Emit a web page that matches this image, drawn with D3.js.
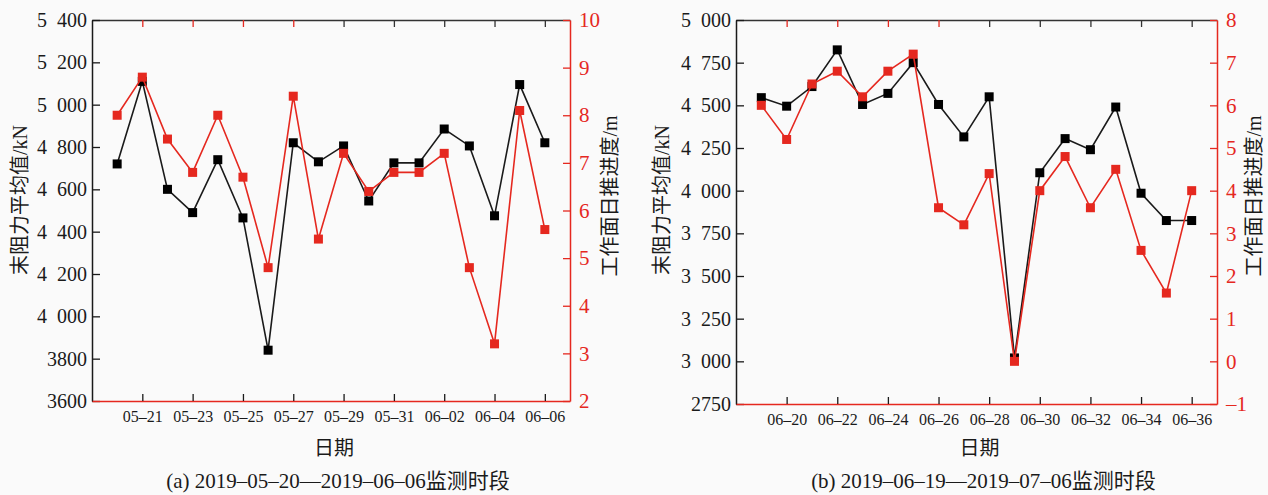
<!DOCTYPE html>
<html>
<head>
<meta charset="utf-8">
<script src="https://cdn.jsdelivr.net/npm/d3@7"></script>
<style>
body { margin: 0; background: #fafafa; }
text { font-family: "Liberation Serif", "Noto Sans CJK SC", serif; }
</style>
</head>
<body>
<svg id="chart" width="1268" height="495"></svg>
<script>
// ---- data, panel (a) ----
var datesA = ["05\u201320","05\u201321","05\u201322","05\u201323","05\u201324","05\u201325","05\u201326","05\u201327","05\u201328",
              "05\u201329","05\u201330","05\u201331","06\u201301","06\u201302","06\u201303","06\u201304","06\u201305","06\u201306"];
var resistA = [4720, 5110, 4600, 4490, 4740, 4465, 3840, 4820, 4730,
               4805, 4545, 4725, 4725, 4885, 4805, 4475, 5095, 4820];
var advanceA = [8.0, 8.8, 7.5, 6.8, 8.0, 6.7, 4.8, 8.4, 5.4,
                7.2, 6.4, 6.8, 6.8, 7.2, 4.8, 3.2, 8.1, 5.6];
var leftTicksA = [3600, 3800, 4000, 4200, 4400, 4600, 4800, 5000, 5200, 5400];
var leftLabelsA = ["3600", "3800", "4 000", "4 200", "4 400", "4 600", "4 800", "5 000", "5 200", "5 400"];
var rightTicksA = [2, 3, 4, 5, 6, 7, 8, 9, 10];

// ---- data, panel (b) ----
var datesB = ["06\u201319","06\u201320","06\u201321","06\u201322","06\u201323","06\u201324","06\u201325","06\u201326","06\u201327",
              "06\u201328","06\u201329","06\u201330","06\u201331","06\u201332","06\u201333","06\u201334","06\u201335","06\u201336"];
var resistB = [4545, 4495, 4610, 4825, 4505, 4570, 4750, 4505, 4315,
               4550, 3020, 4105, 4305, 4240, 4490, 3985, 3825, 3825];
var advanceB = [6.0, 5.2, 6.5, 6.8, 6.2, 6.8, 7.2, 3.6, 3.2,
                4.4, 0.0, 4.0, 4.8, 3.6, 4.5, 2.6, 1.6, 4.0];
var leftTicksB = [2750, 3000, 3250, 3500, 3750, 4000, 4250, 4500, 4750, 5000];
var leftLabelsB = ["2750", "3 000", "3 250", "3 500", "3 750", "4 000", "4 250", "4 500", "4 750", "5 000"];
var rightTicksB = [-1, 0, 1, 2, 3, 4, 5, 6, 7, 8];

var red = "#e5281f";
var ink = "#1a1a1a";
var svg = d3.select("#chart");

var panels = [
  { left: 92, right: 570, top: 20, bottom: 401,
    dates: datesA, resist: resistA, advance: advanceA,
    leftDomain: [3600, 5400], leftTicks: leftTicksA, leftLabels: leftLabelsA,
    rightDomain: [2, 10], rightTicks: rightTicksA,
    yLabelL: 20, yLabelR: 610,
    caption: "(a) 2019\u201305\u201320\u20142019\u201306\u201306监测时段" },
  { left: 736, right: 1217, top: 20, bottom: 404,
    dates: datesB, resist: resistB, advance: advanceB,
    leftDomain: [2750, 5000], leftTicks: leftTicksB, leftLabels: leftLabelsB,
    rightDomain: [-1, 8], rightTicks: rightTicksB,
    yLabelL: 662, yLabelR: 1254,
    caption: "(b) 2019\u201306\u201319\u20142019\u201307\u201306监测时段" }
];

panels.forEach(drawPanel);

function drawPanel(p) {
  var x = d3.scaleLinear().domain([-1, p.dates.length]).range([p.left, p.right]);
  var yL = d3.scaleLinear().domain(p.leftDomain).range([p.bottom, p.top]);
  var yR = d3.scaleLinear().domain(p.rightDomain).range([p.bottom, p.top]);
  var tickIdx = d3.range(1, p.dates.length, 2);

  // top frame
  var gTop = svg.append("g").attr("transform", "translate(0," + p.top + ")")
    .call(d3.axisTop(x).tickValues(tickIdx).tickSizeInner(-7).tickSizeOuter(0).tickFormat(""));
  gTop.select(".domain").attr("stroke", "#333").attr("stroke-width", 1.5);
  gTop.selectAll(".tick line").attr("stroke", function(d, i) { return i < 4 ? red : "#333"; }).attr("stroke-width", 1.3);

  // left axis (thousands gap = two no-break spaces, like the reference)
  var gL = svg.append("g").attr("transform", "translate(" + p.left + ",0)")
    .call(d3.axisLeft(yL).tickValues(p.leftTicks).tickSizeInner(-8).tickSizeOuter(0).tickPadding(5)
      .tickFormat(function(d, i) { return p.leftLabels[i].replace(" ", "\u00a0\u00a0"); }));
  gL.select(".domain").attr("stroke", ink).attr("stroke-width", 1.5);
  gL.selectAll(".tick line").attr("stroke", ink).attr("stroke-width", 1.3);
  gL.selectAll("text").attr("fill", ink).style("font-size", "20px")
    .style("font-family", "'Liberation Serif', serif");

  // right axis
  var gR = svg.append("g").attr("transform", "translate(" + p.right + ",0)")
    .call(d3.axisRight(yR).tickValues(p.rightTicks).tickSizeInner(-7).tickSizeOuter(0).tickPadding(9)
      .tickFormat(function(d) { return d < 0 ? "\u2013" + Math.abs(d) : d; }));
  gR.select(".domain").attr("stroke", red).attr("stroke-width", 1.5);
  gR.selectAll(".tick line").attr("stroke", red).attr("stroke-width", 1.3);
  gR.selectAll("text").attr("fill", red).style("font-size", "21px")
    .style("font-family", "'Liberation Serif', serif");

  // bottom axis
  var gB = svg.append("g").attr("transform", "translate(0," + p.bottom + ")")
    .call(d3.axisBottom(x).tickValues(tickIdx).tickSizeInner(-7).tickSizeOuter(0).tickPadding(10)
      .tickFormat(function(i) { return p.dates[i]; }));
  gB.select(".domain").attr("stroke", red).attr("stroke-width", 1.5);
  gB.selectAll(".tick line").attr("stroke", ink).attr("stroke-width", 1.3);
  gB.selectAll("text").attr("fill", ink).style("font-size", "16px")
    .style("font-family", "'Liberation Serif', serif");

  // series lines + markers
  var lineL = d3.line().x(function(d, i) { return x(i); }).y(function(d) { return yL(d); });
  var lineR = d3.line().x(function(d, i) { return x(i); }).y(function(d) { return yR(d); });

  svg.append("path").datum(p.resist).attr("d", lineL)
    .attr("fill", "none").attr("stroke", ink).attr("stroke-width", 1.6);
  svg.append("g").selectAll("rect").data(p.resist).join("rect")
    .attr("x", function(d, i) { return x(i) - 4.5; })
    .attr("y", function(d) { return yL(d) - 4.5; })
    .attr("width", 9).attr("height", 9).attr("fill", "#000");

  svg.append("path").datum(p.advance).attr("d", lineR)
    .attr("fill", "none").attr("stroke", red).attr("stroke-width", 1.6);
  svg.append("g").selectAll("rect").data(p.advance).join("rect")
    .attr("x", function(d, i) { return x(i) - 4.5; })
    .attr("y", function(d) { return yR(d) - 4.5; })
    .attr("width", 9).attr("height", 9).attr("fill", red);

  // axis titles
  var cx = (p.left + p.right) / 2;
  svg.append("text").attr("x", cx + 3).attr("y", 455).attr("text-anchor", "middle")
    .style("font-size", "20px").attr("fill", ink).text("日期");

  svg.append("text").attr("transform", "translate(" + p.yLabelL + ",200) rotate(-90)")
    .attr("text-anchor", "middle").attr("dominant-baseline", "central")
    .style("font-size", "20px").attr("fill", ink).text("末阻力平均值/kN");

  svg.append("text").attr("transform", "translate(" + p.yLabelR + ",196) rotate(-90)")
    .attr("text-anchor", "middle").attr("dominant-baseline", "central")
    .style("font-size", "20px").attr("fill", ink).text("工作面日推进度/m");

  svg.append("text").attr("x", cx + 7).attr("y", 488).attr("text-anchor", "middle")
    .style("font-size", "21px").attr("fill", ink).text(p.caption);
}
</script>
</body>
</html>
